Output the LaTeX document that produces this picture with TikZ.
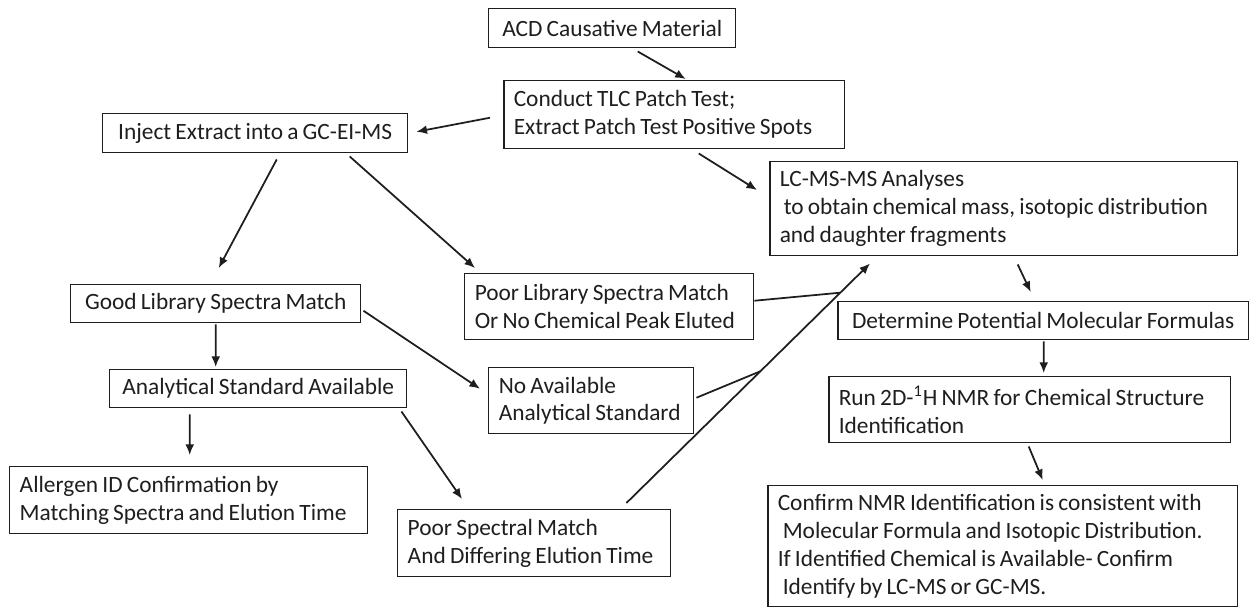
\documentclass[tikz,border=0pt]{standalone}
\usepackage{fontspec}
\setmainfont{Carlito}[WordSpace=0.8]
\usepackage{tikz}
\usetikzlibrary{arrows.meta,positioning,calc}
\definecolor{inkgray}{RGB}{30,30,30}

\begin{document}
\begin{tikzpicture}[
            x=0.02cm, y=-0.02cm,
            font=\fontsize{13.3}{15.9}\selectfont,
            box/.style={rectangle, draw=inkgray, line width=0.85pt, text=inkgray,
                        anchor=north west, inner xsep=0.2cm, inner ysep=0pt},
            leftbox/.style={box, align=flush left},
            midbox/.style={box, align=center},
            arrow/.style={-{Latex[length=6pt,width=5pt]}, line width=1pt, inkgray},
            joint/.style={line width=1pt, inkgray}
        ]
            \useasboundingbox (0,0) rectangle (1254,607);

            \node[midbox, minimum width=4.94cm, minimum height=0.78cm] (acd) at (488,8) {ACD Causative Material};
            \node[leftbox, text width=6.42cm, minimum height=1.36cm] (tlc) at (503,80)
                {Conduct TLC Patch Test;\\Extract Patch Test Positive Spots};
            \node[midbox, minimum width=6.1cm, minimum height=0.78cm] (inj) at (102,113) {Inject Extract into a GC-EI-MS};
            \node[leftbox, text width=8.96cm, minimum height=1.88cm] (lc) at (769,161)
                {LC-MS-MS Analyses\\\hspace*{0.08cm}to obtain chemical mass, isotopic distribution\\and daughter fragments};
            \node[leftbox, text width=5.38cm, minimum height=1.32cm] (plib) at (464,273)
                {Poor Library Spectra Match\\Or No Chemical Peak Eluted};
            \node[midbox, minimum width=5.8cm, minimum height=0.76cm] (good) at (70,284) {Good Library Spectra Match};
            \node[midbox, minimum width=8.22cm, minimum height=0.76cm] (det) at (837,301) {Determine Potential Molecular Formulas};
            \node[midbox, minimum width=5.94cm, minimum height=0.76cm] (ana) at (109,369) {Analytical Standard Available};
            \node[leftbox, text width=3.7cm, minimum height=1.32cm] (noav) at (488,367)
                {No Available\\Analytical Standard};
            \node[leftbox, text width=7.64cm, minimum height=1.32cm] (run) at (828,376)
                {Run 2D-\textsuperscript{1}H NMR for Chemical Structure\\Identification};
            \node[leftbox, text width=6.76cm, minimum height=1.34cm] (all) at (9,466)
                {Allergen ID Confirmation by\\Matching Spectra and Elution Time};
            \node[leftbox, text width=5.06cm, minimum height=1.34cm] (spec) at (397,509)
                {Poor Spectral Match\\And Differing Elution Time};
            \node[leftbox, text width=9.0cm, minimum height=2.42cm] (conf) at (767,485)
                {Confirm NMR Identification is consistent with\\\hspace*{0.1cm}Molecular Formula and Isotopic Distribution.\\If Identified Chemical is Available- Confirm\\\hspace*{0.1cm}Identify by LC-MS or GC-MS.};

            \coordinate (spout) at ($(spec.north east)+(-45,-6)$);
            \coordinate (lcin) at ($(lc.south west)+(101,7)$);

            \draw[arrow] ($(acd.south)+(25.5,3)$) -- ($(tlc.north)+(11.5,-1)$);
            \draw[arrow] ($(tlc.west)+(-13,3)$) -- ($(inj.east)+(8,-1.5)$);
            \draw[arrow] ($(tlc.south)+(24.5,4)$) -- ($(lc.north west)+(-12,29)$);
            \draw[arrow] ($(inj.south)+(21.5,6)$) -- ($(good.north)+(3,-16)$);
            \draw[arrow] ($(inj.south)+(94.5,3)$) -- ($(plib.north west)+(11,-5)$);
            \draw[arrow] ($(good.south)+(0,1)$) -- ($(ana.north)+(-42.5,-2)$);
            \draw[arrow] ($(good.east)+(2,7)$) -- ($(noav.west)+(-8,-12)$);
            \draw[arrow] ($(ana.south)+(-68.5,6)$) -- ($(all.north)+(1,-11)$);
            \draw[arrow] ($(ana.south east)+(-6,3)$) -- ($(spec.north west)+(65,-10)$);
            \draw[arrow] (spout) -- (lcin);
            \draw[joint] ($(plib.east)+(0,-6)$) -- ($(spout)!0.878!(lcin)$);
            \draw[joint] ($(noav.east)+(2,-3)$) -- ($(spout)!0.55!(lcin)$);
            \draw[arrow] ($(lc.south)+(14,8)$) -- ($(det.north)+(-12.5,-9)$);
            \draw[arrow] ($(det.south)+(0.5,1)$) -- ($(run.north)+(14,-3)$);
            \draw[arrow] ($(run.south)+(-1,3)$) -- ($(conf.north)+(40,-5)$);
        \end{tikzpicture}
\end{document}
